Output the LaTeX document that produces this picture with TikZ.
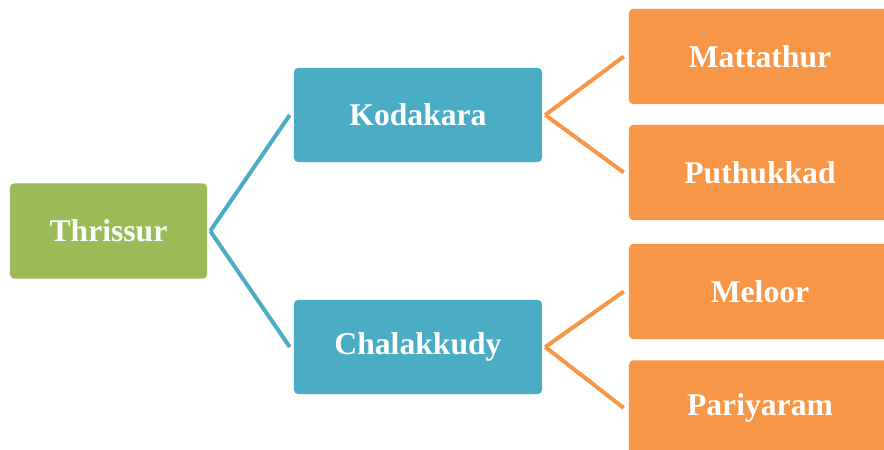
\documentclass[tikz,border=0pt]{standalone}
\usepackage{xcolor}
\usepackage{fontspec}
\setmainfont{Liberation Serif}
\usepackage{tikz}
\usetikzlibrary{positioning, calc}

\definecolor{placegreen}{HTML}{9BBB59}
\definecolor{placeblue}{HTML}{4BACC6}
\definecolor{placeorange}{HTML}{F79646}

\begin{document}
\begin{tikzpicture}[
                    x=0.03cm, y=-0.03cm,
                    place/.style={
                        rectangle,
                        rounded corners=0.12cm,
                        text=white,
                        font=\fontsize{27pt}{27}\selectfont\bfseries,
                        inner sep=0pt
                    },
                    district/.style={place, fill=placegreen, minimum width=5.91cm, minimum height=2.85cm},
                    taluk/.style={place, fill=placeblue, minimum width=7.44cm, minimum height=2.82cm},
                    village/.style={place, fill=placeorange, minimum width=7.86cm, minimum height=2.85cm},
                    blueline/.style={draw=placeblue, line width=0.12cm},
                    orangeline/.style={draw=placeorange, line width=0.12cm}
                ]
                \useasboundingbox (0, 0) rectangle (884, 450);
                \clip (0, 0) rectangle (884, 450);

                % left column
                \node[district] (thrissur) at (108.5, 231) {Thrissur};

                % middle column
                \node[taluk] (kodakara) at (418, 115) {Kodakara};
                \node[taluk] (chalakkudy) at (418, 347) {Chalakkudy};

                % right column
                \node[village] (mattathur) at (760, 56.5) {Mattathur};
                \node[village] (puthukkad) at (760, 172.5) {Puthukkad};
                \node[village] (meloor) at (760, 291.5) {Meloor};
                \node[village] (pariyaram) at (760, 408) {Pariyaram};

                % connectors
                \draw[blueline] ([xshift=0.09cm]thrissur.east) -- ([xshift=-0.12cm]kodakara.west);
                \draw[blueline] ([xshift=0.09cm]thrissur.east) -- ([xshift=-0.12cm]chalakkudy.west);
                \draw[orangeline] ([xshift=0.09cm]kodakara.east) -- ([xshift=-0.15cm]mattathur.west);
                \draw[orangeline] ([xshift=0.09cm]kodakara.east) -- ([xshift=-0.15cm]puthukkad.west);
                \draw[orangeline] ([xshift=0.09cm]chalakkudy.east) -- ([xshift=-0.15cm]meloor.west);
                \draw[orangeline] ([xshift=0.09cm]chalakkudy.east) -- ([xshift=-0.15cm]pariyaram.west);
            \end{tikzpicture}
\end{document}
